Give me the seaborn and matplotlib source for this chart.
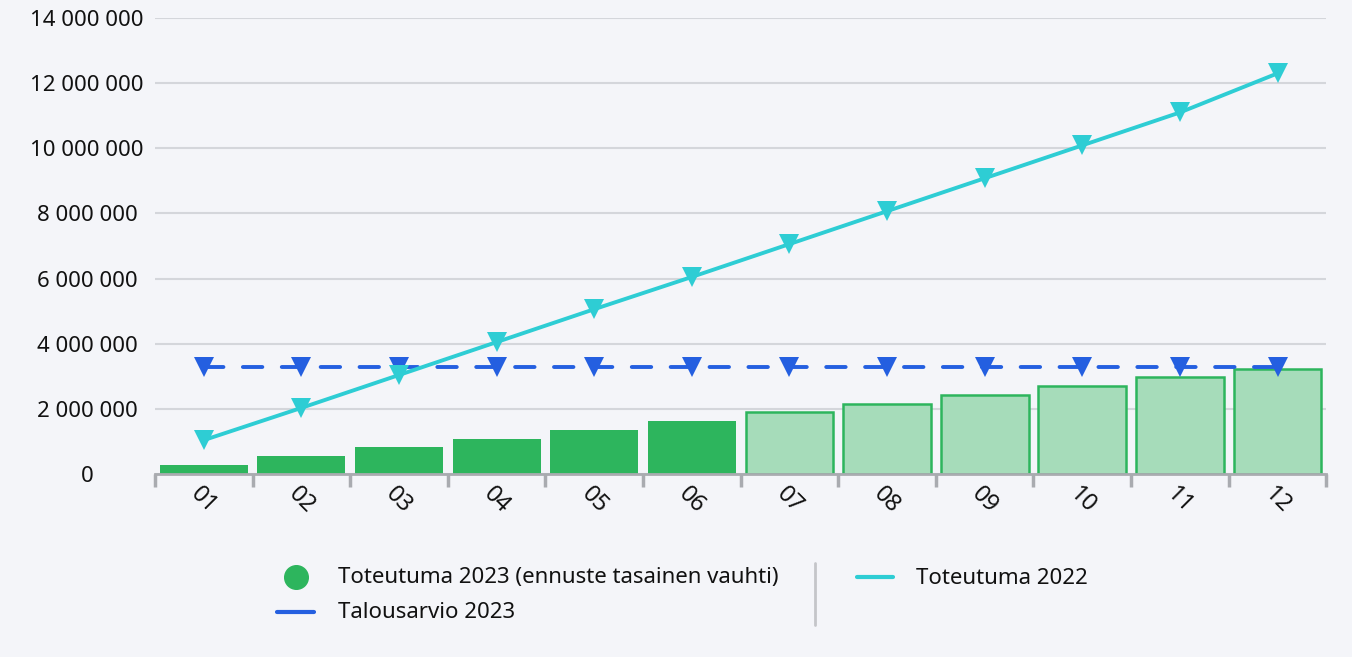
import numpy as np
import pandas as pd
import matplotlib
matplotlib.use('Agg')
import matplotlib.pyplot as plt
from matplotlib.lines import Line2D
from matplotlib.ticker import FuncFormatter, FixedLocator
import seaborn as sns

# Data
months = ['01', '02', '03', '04', '05', '06', '07', '08', '09', '10', '11', '12']
toteutuma_2023 = [270000, 545000, 815000, 1085000, 1355000, 1625000,
                  1895000, 2160000, 2430000, 2700000, 2970000, 3225000]
tyyppi = ['toteutuma'] * 6 + ['ennuste'] * 6
talousarvio_2023 = [3300000] * 12
toteutuma_2022 = [1040000, 2030000, 3040000, 4050000, 5060000, 6050000,
                  7060000, 8070000, 9080000, 10090000, 11100000, 12300000]

bg = '#f4f5f9'
green = '#2db55d'
green_light = '#a6dcba'
blue = '#245fe0'
cyan = '#2ecdd4'
txt = '#111111'

sns.set_theme(style='white')
plt.rcParams['font.family'] = ['Noto Sans', 'DejaVu Sans']

df = pd.DataFrame({'kk': months, 'arvo': toteutuma_2023, 'tyyppi': tyyppi})

fig = plt.figure(figsize=(13.52, 6.57), dpi=100, facecolor=bg)
ax = fig.add_axes([0.1146, 0.2785, 0.8664, 0.6941])
ax.set_facecolor(bg)

sns.barplot(data=df, x='kk', y='arvo', hue='tyyppi', dodge=False,
            palette={'toteutuma': green, 'ennuste': green_light}, saturation=1,
            width=0.9, legend=False, ax=ax, zorder=2)
# forecast bars get a green outline
for cont in ax.containers:
    for bar in cont:
        if bar.get_height() > 0 and bar.get_facecolor()[1] > 0.8:
            bar.set_edgecolor(green)
            bar.set_linewidth(1.8)
        else:
            bar.set_linewidth(0)

xpos = np.arange(len(months))
sns.lineplot(x=xpos, y=toteutuma_2022, color=cyan, linewidth=2.8,
             marker='v', markersize=14, markeredgewidth=0, ax=ax, zorder=4)
sns.lineplot(x=xpos, y=talousarvio_2023, color=blue, linewidth=2.8,
             linestyle=(0, (5, 5)), dash_capstyle='round', marker='v',
             markersize=14, markeredgewidth=0, ax=ax, zorder=3)

ax.set_xlim(-0.5, len(months) - 0.5)
ax.set_ylim(0, 14000000)
ax.set_yticks(np.arange(0, 14000001, 2000000))
ax.yaxis.set_major_formatter(FuncFormatter(lambda v, p: f'{int(v):,}'.replace(',', ' ')))
ax.grid(axis='y', color='#d4d6db', linewidth=1.5, zorder=0)
ax.set_axisbelow(True)
for s in ['left', 'right', 'top']:
    ax.spines[s].set_visible(False)
ax.spines['bottom'].set_color('#a9abb0')
ax.spines['bottom'].set_linewidth(2)
ax.tick_params(axis='y', length=0, labelsize=16, pad=49, colors=txt)
for lab in ax.get_yticklabels():
    lab.set_horizontalalignment('center')
ax.set_xlabel('')
ax.set_ylabel('')

ax.set_xticks(xpos)
ax.set_xticklabels(months, rotation=-45, ha='center', fontsize=17, color=txt)
ax.tick_params(axis='x', which='major', length=0, pad=6)
ax.xaxis.set_minor_locator(FixedLocator(np.arange(-0.5, len(months), 1)))
ax.tick_params(axis='x', which='minor', length=9, width=2.5, color='#a9abb0',
               direction='out', bottom=True)

# legend drawn in figure space
def fx(px):
    return px / 1352

def fy(py):
    return 1 - py / 657

fig.add_artist(Line2D([fx(296)], [fy(577)], marker='o', markersize=17,
                      color=green, linewidth=0))
fig.add_artist(Line2D([fx(277), fx(314)], [fy(612), fy(612)], color=blue, linewidth=3))
fig.add_artist(Line2D([fx(857), fx(893)], [fy(577), fy(577)], color=cyan, linewidth=3))
fig.add_artist(Line2D([fx(815), fx(815)], [fy(563), fy(625)], color='#c4c5c9', linewidth=2))
fig.text(fx(338), fy(578), 'Toteutuma 2023 (ennuste tasainen vauhti)', fontsize=16,
         va='center', ha='left', color=txt)
fig.text(fx(338), fy(613), 'Talousarvio 2023', fontsize=16, va='center', ha='left',
         color=txt)
fig.text(fx(916), fy(578), 'Toteutuma 2022', fontsize=16, va='center', ha='left',
         color=txt)

fig.savefig('out.png', dpi=100, facecolor=bg)
